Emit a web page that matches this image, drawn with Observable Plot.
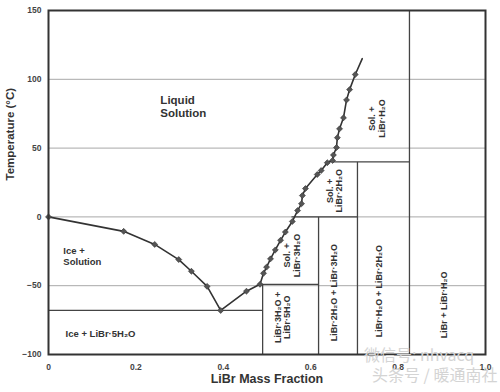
<!DOCTYPE html>
<html>
<head>
<meta charset="utf-8">
<script src="https://cdn.jsdelivr.net/npm/d3@7"></script>
<script src="https://cdn.jsdelivr.net/npm/@observablehq/plot@0.6"></script>
<style>
  html, body { margin: 0; padding: 0; background: #fff; }
  #chart { position: relative; width: 500px; height: 392px; }
  .wm { position: absolute; font-family: "Noto Sans CJK SC", sans-serif; color: #d4d4d4; font-size: 16px; line-height: 1; white-space: nowrap; }
</style>
</head>
<body>
<div id="chart"></div>
<script>
// ---- data ----
const xTicks = [0, 0.2, 0.4, 0.6, 0.8, 1.0];
const xTickLabels = ["0", "0.2", "0.4", "0.6", "0.8", "1.0"];
const yTicks = [-100, -50, 0, 50, 100, 150];
const gridTemps = [100, 50, 0, -50];

// liquidus curve (mass fraction, temperature °C), measured points (diamonds)
const curveX = [0, 0.172, 0.243, 0.298, 0.327, 0.363, 0.394, 0.453, 0.484, 0.492, 0.499, 0.508, 0.519, 0.531, 0.542, 0.558, 0.570, 0.579, 0.581, 0.588, 0.615, 0.624, 0.638, 0.650, 0.652, 0.659, 0.661, 0.666, 0.675, 0.682, 0.689, 0.702];
const curveT = [0, -10.5, -20, -31, -39.5, -50.5, -68, -54, -49, -41, -36.5, -30.5, -24, -17, -11, -3.3, 4.6, 9.6, 15.5, 20.6, 30.8, 33.7, 39.4, 41, 45, 50.4, 57.6, 64, 72, 85, 92.5, 103.5];
const curveEnd = [0.718, 115];

// phase boundaries: [x1, T1, x2, T2]
const boundX1 = [0, 0.49, 0.484, 0.618, 0.556, 0.707, 0.650, 0.826];
const boundT1 = [-68, -49, -49, 0, 0, 40, 40, 150];
const boundX2 = [0.49, 0.49, 0.618, 0.618, 0.707, 0.707, 0.826, 0.826];
const boundT2 = [-68, -100, -49, -100, 0, -100, 40, -100];

// region labels (horizontal)
const hLabels = ["Liquid\nSolution", "Ice +\nSolution", "Ice + LiBr·5H₂O"];
const hLabelX = [0.256, 0.034, 0.039];
const hLabelT = [80.5, -28.4, -84.7];
// region labels (vertical)
const vLabels = ["Sol. +\nLiBr·H₂O", "Sol. +\nLiBr·2H₂O", "Sol. +\nLiBr·3H₂O", "LiBr·3H₂O +\nLiBr·5H₂O", "LiBr·2H₂O + LiBr·3H₂O", "LiBr·H₂O + LiBr·2H₂O", "LiBr + LiBr·H₂O"];
const vLabelX = [0.751, 0.654, 0.556, 0.535, 0.652, 0.757, 0.904];
const vLabelT = [71.5, 19, -28, -73, -55, -54, -64];

const xLabel = "LiBr Mass Fraction";
const yLabel = "Temperature (°C)";

// ---- build tables ----
const pts = curveX.map((x, i) => ({x, t: curveT[i]}));
const linePts = pts.concat([{x: curveEnd[0], t: curveEnd[1]}]);
const bounds = boundX1.map((x1, i) => ({x1, t1: boundT1[i], x2: boundX2[i], t2: boundT2[i]}));
const hL = hLabels.map((s, i) => ({s, x: hLabelX[i], t: hLabelT[i]}));
const vL = vLabels.map((s, i) => ({s, x: vLabelX[i], t: vLabelT[i]}));

const font = "'Liberation Sans', Arial, sans-serif";

const chart = Plot.plot({
  width: 500,
  height: 392,
  marginLeft: 48,
  marginRight: 15,
  marginTop: 10,
  marginBottom: 38,
  style: {fontFamily: font, background: "#fff", color: "#333"},
  x: {domain: [0, 1]},
  y: {domain: [-100, 150]},
  marks: [
    Plot.ruleY(gridTemps, {stroke: "#a8a8a8", strokeWidth: 1}),
    Plot.link(bounds, {x1: "x1", y1: "t1", x2: "x2", y2: "t2", stroke: "#444", strokeWidth: 1.3}),
    Plot.line(linePts, {x: "x", y: "t", stroke: "#333", strokeWidth: 1.6}),
    Plot.dot(pts, {x: "x", y: "t", symbol: "diamond2", r: 2.7, fill: "#555", stroke: "#333", strokeWidth: 0.6}),
    Plot.frame({stroke: "#333", strokeWidth: 2}),
    Plot.axisX(xTicks, {tickSize: 0, tickPadding: 9, tickFormat: (d, i) => xTickLabels[i], fontSize: 8.5, fontWeight: "bold", fill: "#444", label: null}),
    Plot.axisY(yTicks, {tickSize: 0, tickPadding: 7, fontSize: 8.5, fontWeight: "bold", fill: "#444", label: null}),
    Plot.text(hL, {x: "x", y: "t", text: "s", textAnchor: "start", fontSize: 11.5, fontWeight: "bold", fill: "#333", lineHeight: 1.2, filter: (d, i) => i === 0}),
    Plot.text(hL, {x: "x", y: "t", text: "s", textAnchor: "start", fontSize: 9.5, fontWeight: "bold", fill: "#333", lineHeight: 1.15, filter: (d, i) => i > 0}),
    Plot.text(vL, {x: "x", y: "t", text: "s", rotate: -90, fontSize: 9, fontWeight: "bold", fill: "#333", lineHeight: 1.1}),
    Plot.text([xLabel], {frameAnchor: "bottom", dy: 28, fontSize: 12.5, fontWeight: "bold", fill: "#333"}),
    Plot.text([yLabel], {frameAnchor: "left", dx: -38, dy: -2, rotate: -90, fontSize: 11.5, fontWeight: "bold", fill: "#333"})
  ]
});

const root = document.getElementById("chart");
root.appendChild(chart);
const wm1 = document.createElement("div");
wm1.className = "wm"; wm1.style.left = "364px"; wm1.style.top = "346px";
wm1.textContent = "微信号: nhvacq";
const wm2 = document.createElement("div");
wm2.className = "wm"; wm2.style.left = "372px"; wm2.style.top = "366px";
wm2.textContent = "头条号 / 暖通南社";
root.appendChild(wm1); root.appendChild(wm2);
</script>
</body>
</html>
